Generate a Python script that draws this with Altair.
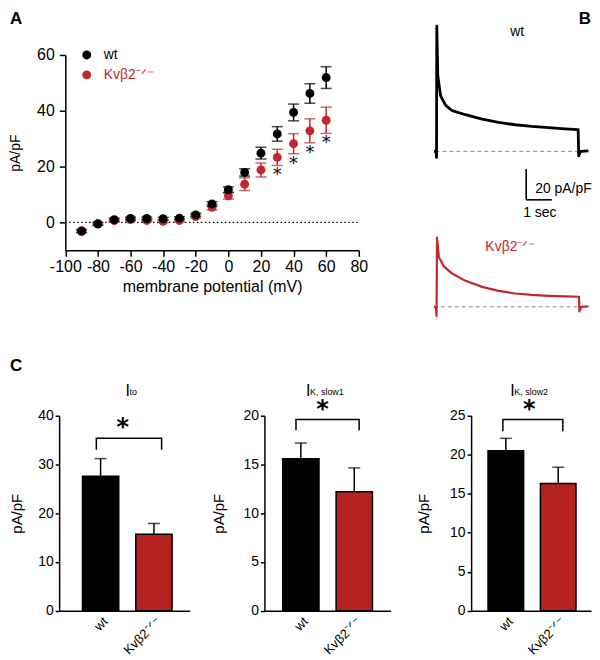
import altair as alt
import pandas as pd

FONT = "Liberation Sans"
RED = "#c1272d"
BAR_RED = "#b42320"
GREY = "#8c8c8c"
W, H = 584, 644

# ---------------- Panel A : current-voltage relation ----------------
VOLTAGE = [-90, -80, -70, -60, -50, -40, -30, -20, -10, 0, 10, 20, 30, 40, 50, 60]
WT_MEAN = [-3.2, -0.6, 1.0, 1.4, 1.4, 1.3, 1.5, 2.7, 6.6, 11.7, 17.9, 24.8, 31.7, 39.4, 46.2, 51.9]
WT_SEM = [0.5, 0.5, 0.5, 0.5, 0.5, 0.5, 0.5, 0.6, 0.8, 1.0, 1.3, 2.1, 2.6, 3.0, 3.5, 3.9]
KV_MEAN = [-3.0, -0.4, 0.6, 1.0, 0.7, 0.4, 0.7, 2.1, 5.4, 9.5, 13.7, 18.8, 23.3, 28.2, 32.8, 36.6]
KV_SEM = [0.5, 0.5, 0.5, 0.5, 0.5, 0.5, 0.5, 0.6, 0.9, 1.2, 2.3, 2.5, 2.9, 3.6, 4.3, 4.7]
SIGNIFICANT_V = [30, 40, 50, 60]
GENOTYPES = ["wt", "Kvβ2⁻ᐟ⁻"]
A_XTICKS = [-100, -80, -60, -40, -20, 0, 20, 40, 60, 80]
A_YTICKS = [0, 20, 40, 60]

# ---------------- Panel B : example current traces ----------------
WT_T = [-0.10, -0.02, 0.00, 0.01, 0.05, 0.16, 0.35, 0.61, 1.13, 1.78, 2.42, 3.07, 3.72, 4.37, 5.02, 5.51, 5.53, 5.55, 5.62, 5.93]
WT_I = [0.0, 0.0, -3.9, 81.1, 48.8, 35.9, 29.9, 26.3, 23.7, 20.9, 18.7, 17.2, 16.1, 15.3, 14.5, 14.0, 14.0, -3.0, 0.0, 0.3]
KV_T = [-0.10, -0.02, 0.00, 0.02, 0.09, 0.28, 0.61, 1.13, 1.78, 2.42, 3.07, 3.72, 4.37, 5.02, 5.54, 5.56, 5.58, 5.65, 5.93]
KV_I = [0.0, 0.0, -6.0, 44.8, 32.3, 26.3, 21.5, 16.8, 12.9, 10.3, 8.6, 7.7, 7.1, 6.7, 6.5, 6.5, -3.0, 0.0, 0.3]
WT_BASE_T = [-0.04, 5.49]
KV_BASE_T = [-0.10, 5.55]
SCALEBAR_T0, SCALEBAR_I0 = 3.5, -31.4
SCALEBAR_SEC, SCALEBAR_PAPF = 1.0, 20.0

# ---------------- Panel C : summary bars ----------------
ITO_MEAN, ITO_SEM = [27.6, 15.7], [3.6, 2.2]
SLOW1_MEAN, SLOW1_SEM = [15.6, 12.2], [1.6, 2.45]
SLOW2_MEAN, SLOW2_SEM = [20.5, 16.3], [1.6, 2.1]
ITO_BRACKET = [33.0, 35.4]
SLOW1_BRACKET = [18.5, 19.6]
SLOW2_BRACKET = [23.0, 24.5]


def nos(domain, rng):
    return alt.Scale(domain=domain, range=rng, nice=False, zero=False)


def label(text, x, y, size=14, color="black", weight="normal", align="left", baseline="alphabetic", font=FONT):
    return alt.Chart(pd.DataFrame({"t": [text]})).mark_text(
        align=align, baseline=baseline, fontSize=size, font=font, fontWeight=weight, color=color
    ).encode(x=alt.value(x), y=alt.value(y), text="t:N")


layers = []

# ===== Panel A =====
XA_DOM, XA_RNG = [-100, 80], [55.5, 350]
YA_DOM, YA_RNG = [-10, 60], [242, 46]
axA_x = alt.Axis(orient="bottom", offset=242 - H, values=A_XTICKS, tickSize=6, labelPadding=2,
                 labelFontSize=16, labelOverlap=False, labelExpr="toString(datum.value)",
                 title="membrane potential (mV)", titleFontSize=16, titlePadding=4)
axA_y = alt.Axis(orient="left", offset=-55.5, values=A_YTICKS, tickSize=6, labelPadding=5,
                 labelFontSize=16, labelExpr="toString(datum.value)", title="pA/pF", titlePadding=14)


def xA(field, axis=None):
    return alt.X(field, scale=nos(XA_DOM, XA_RNG), axis=axis)


def yA(field, axis=None):
    return alt.Y(field, scale=nos(YA_DOM, YA_RNG), axis=axis)


dfA = pd.DataFrame({
    "v": VOLTAGE * 2,
    "mean": WT_MEAN + KV_MEAN,
    "sem": WT_SEM + KV_SEM,
    "genotype": [GENOTYPES[0]] * len(VOLTAGE) + [GENOTYPES[1]] * len(VOLTAGE),
})
dfA["lo"] = dfA["mean"] - dfA["sem"]
dfA["hi"] = dfA["mean"] + dfA["sem"]
dfA_wt = dfA[dfA.genotype == GENOTYPES[0]]
dfA_kv = dfA[dfA.genotype == GENOTYPES[1]]

layers.append(alt.Chart(pd.DataFrame({"x0": [-100], "x1": [80], "y": [0]})).mark_rule(
    strokeDash=[1.5, 2.5], strokeWidth=1.2, color="black"
).encode(x=xA("x0:Q", axA_x), x2="x1:Q", y=yA("y:Q", axA_y)))


def err_layers(df, color):
    rule = alt.Chart(df).mark_rule(strokeWidth=1.5, color=color).encode(
        x=xA("v:Q"), y=yA("lo:Q"), y2="hi:Q")
    caps = alt.Chart(df).transform_fold(["lo", "hi"], as_=["end", "val"]).mark_tick(
        orient="horizontal", size=11, thickness=1.5, color=color
    ).encode(x=xA("v:Q"), y=yA("val:Q"))
    return [rule, caps]


layers += err_layers(dfA_kv, RED)
layers.append(alt.Chart(dfA_kv).mark_circle(size=80, opacity=1).encode(
    x=xA("v:Q"), y=yA("mean:Q"),
    fill=alt.Fill("genotype:N", scale=alt.Scale(domain=[GENOTYPES[1]], range=[RED]),
                  legend=alt.Legend(orient="none", legendX=70, legendY=59, title=None, symbolType="circle",
                                    symbolSize=80, symbolStrokeWidth=0, labelFont=FONT, labelFontSize=14,
                                    labelColor=RED, labelOffset=10))))
layers += err_layers(dfA_wt, "black")
layers.append(alt.Chart(dfA_wt).mark_circle(size=80, opacity=1).encode(
    x=xA("v:Q"), y=yA("mean:Q"),
    color=alt.Color("genotype:N", scale=alt.Scale(domain=[GENOTYPES[0]], range=["black"]),
                    legend=alt.Legend(orient="none", legendX=70, legendY=39, title=None, symbolType="circle",
                                      symbolSize=80, symbolStrokeWidth=0, labelFont=FONT, labelFontSize=14,
                                      labelColor="black", labelOffset=10))))
layers.append(alt.Chart(dfA_kv[dfA_kv.v.isin(SIGNIFICANT_V)]).mark_text(
    text="*", baseline="top", dy=1, fontSize=18, font="DejaVu Sans", color="black"
).encode(x=xA("v:Q"), y=yA("lo:Q")))

# ===== Panel B =====
XB_DOM, XB_RNG = [0, 6], [428, 582.2]
YB_DOM = [0, 20]
YB_WT_RNG = [142.7, 111.7]
YB_KV_RNG = [298.7, 267.7]


def trace(ts, cur, base_t, y_rng, color, width):
    df = pd.DataFrame({"t": ts, "i": cur, "idx": list(range(len(ts)))})
    base = alt.Chart(pd.DataFrame({"t0": [base_t[0]], "t1": [base_t[1]], "y": [0]})).mark_rule(
        strokeDash=[4, 3], color=GREY, strokeWidth=1
    ).encode(x=alt.X("t0:Q", scale=nos(XB_DOM, XB_RNG), axis=None), x2="t1:Q",
             y=alt.Y("y:Q", scale=nos(YB_DOM, y_rng), axis=None))
    line = alt.Chart(df).mark_line(color=color, strokeWidth=width, strokeJoin="round").encode(
        x=alt.X("t:Q", scale=nos(XB_DOM, XB_RNG), axis=None),
        y=alt.Y("i:Q", scale=nos(YB_DOM, y_rng), axis=None), order="idx:Q")
    return [base, line]


layers += trace(WT_T, WT_I, WT_BASE_T, YB_WT_RNG, "black", 2.8)
layers += trace(KV_T, KV_I, KV_BASE_T, YB_KV_RNG, RED, 2.2)

sb = pd.DataFrame({
    "t0": [SCALEBAR_T0, SCALEBAR_T0],
    "t1": [SCALEBAR_T0, SCALEBAR_T0 + SCALEBAR_SEC],
    "i0": [SCALEBAR_I0, SCALEBAR_I0],
    "i1": [SCALEBAR_I0 + SCALEBAR_PAPF, SCALEBAR_I0],
})
layers.append(alt.Chart(sb).mark_rule(color="black", strokeWidth=1.6).encode(
    x=alt.X("t0:Q", scale=nos(XB_DOM, XB_RNG), axis=None), x2="t1:Q",
    y=alt.Y("i0:Q", scale=nos(YB_DOM, YB_WT_RNG), axis=None), y2="i1:Q"))

# ===== Panel C =====
YC_RANGE = [603.7, 408]


def bar_panel(means, sems, bracket, ydom, yticks, axis_px, x_right, pad_outer, align, title_pad):
    def sx():
        return alt.Scale(domain=GENOTYPES, range=[axis_px, x_right], paddingInner=0.32,
                         paddingOuter=pad_outer, align=align)

    def X(axis=None):
        return alt.X("genotype:N", scale=sx(), axis=axis, sort=GENOTYPES)

    def Y(field, axis=None):
        return alt.Y(field, scale=nos(ydom, YC_RANGE), axis=axis)

    df = pd.DataFrame({"genotype": GENOTYPES, "mean": means, "sem": sems})
    df["hi"] = df["mean"] + df["sem"]
    ax_x = alt.Axis(orient="bottom", offset=YC_RANGE[0] - H, ticks=False, labelAngle=-45,
                    labelPadding=4, labelOffset=1, labelFontSize=13, labelOverlap=False, title=None)
    ax_y = alt.Axis(orient="left", offset=-axis_px, values=yticks, tickSize=4, labelPadding=2,
                    title="pA/pF", titleFontSize=15, titlePadding=title_pad)
    bars = alt.Chart(df).mark_bar(stroke="black", strokeWidth=1.5).encode(
        x=X(ax_x), y=Y("mean:Q", ax_y),
        fill=alt.condition(f"datum.genotype == '{GENOTYPES[0]}'", alt.value("black"), alt.value(BAR_RED)))
    err = alt.Chart(df).mark_rule(color="black", strokeWidth=1.5).encode(
        x=X(), y=Y("mean:Q"), y2="hi:Q")
    cap = alt.Chart(df).mark_tick(orient="horizontal", size=12, thickness=1.5, color="black").encode(
        x=X(), y=Y("hi:Q"))
    br = pd.DataFrame({
        "genotype": [GENOTYPES[0], GENOTYPES[0], GENOTYPES[1], GENOTYPES[1]],
        "y": [bracket[0], bracket[1], bracket[1], bracket[0]],
        "idx": [0, 1, 2, 3],
    })
    brk = alt.Chart(br).mark_line(color="black", strokeWidth=1.5).encode(
        x=X(), y=Y("y:Q"), order="idx:Q")
    star = alt.Chart(br.iloc[[1]]).mark_text(
        text="*", baseline="bottom", dx=26.5, dy=2, fontSize=24, font="DejaVu Sans", fontWeight="bold",
        color="black"
    ).encode(x=X(), y=Y("y:Q"))
    return [bars, err, cap, brk, star]


layers += bar_panel(ITO_MEAN, ITO_SEM, ITO_BRACKET, [0, 40], [0, 10, 20, 30, 40], 49.3, 180.3, 0.384, 0.57, 13)
layers += bar_panel(SLOW1_MEAN, SLOW1_SEM, SLOW1_BRACKET, [0, 20], [0, 5, 10, 15, 20], 255.3, 382, 0.342, 0.5, 16)
layers += bar_panel(SLOW2_MEAN, SLOW2_SEM, SLOW2_BRACKET, [0, 25], [0, 5, 10, 15, 20, 25], 462.7, 583, 0.305, 0.53, 18)

# ===== Text annotations =====
layers += [
    label("A", 0, 2, size=17, weight="bold", baseline="top"),
    label("B", 583, 2, size=17, weight="bold", baseline="top", align="right"),
    label("C", 0, 350, size=17, weight="bold", baseline="top"),
    label("wt", 502, 27),
    label(GENOTYPES[1], 477, 243, color=RED),
    label("20 pA/pF", 527, 185),
    label("1 sec", 515, 209),
    label("I", 116, 388, size=16),
    label("to", 120, 387, size=9),
    label("I", 297, 388, size=16),
    label("K, slow1", 301, 387, size=9),
    label("I", 502, 388, size=16),
    label("K, slow2", 506, 387, size=9),
]

chart = alt.layer(*layers).resolve_scale(
    x="independent", y="independent"
).resolve_axis(x="independent", y="independent").properties(
    width=W, height=H, padding=0, autosize=alt.AutoSizeParams(type="pad")
).configure_view(stroke=None).configure_axis(
    grid=False, domainColor="black", domainWidth=1.5, tickColor="black", tickWidth=1.5,
    labelFont=FONT, labelFontSize=14, labelColor="black", titleFont=FONT, titleFontSize=14,
    titleFontWeight="normal", titleColor="black", labelFlush=False
)

chart.save("out.html", embed_options={"renderer": "svg", "actions": False})
